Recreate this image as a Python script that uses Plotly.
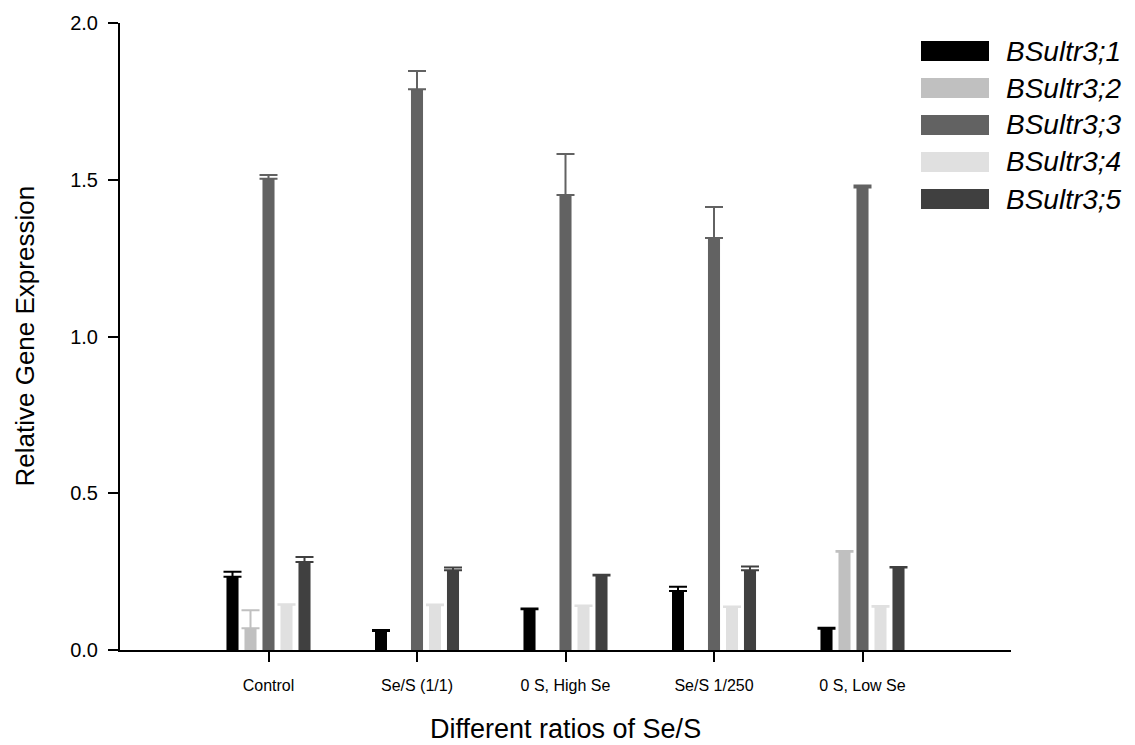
import plotly.graph_objects as go

# Treatments on the x axis
categories = ["Control", "Se/S (1/1)", "0 S, High Se", "Se/S 1/250", "0 S, Low Se"]

# Gene names (series)
genes = ["BSultr3;1", "BSultr3;2", "BSultr3;3", "BSultr3;4", "BSultr3;5"]

# Mean relative expression per gene across treatments (None = not detected)
bsultr3_1 = [0.234, 0.061, 0.130, 0.188, 0.068]
bsultr3_2 = [0.069, None, None, None, 0.313]
bsultr3_3 = [1.503, 1.789, 1.451, 1.314, 1.475]
bsultr3_4 = [0.144, 0.143, 0.140, 0.137, 0.138]
bsultr3_5 = [0.281, 0.254, 0.238, 0.254, 0.263]

# Upper error (SE)
err3_1 = [0.016, 0.003, 0.002, 0.014, 0.003]
err3_2 = [0.058, None, None, None, 0.003]
err3_3 = [0.012, 0.058, 0.131, 0.099, 0.007]
err3_4 = [0.002, 0.002, 0.002, 0.002, 0.002]
err3_5 = [0.016, 0.009, 0.002, 0.012, 0.002]

values = [bsultr3_1, bsultr3_2, bsultr3_3, bsultr3_4, bsultr3_5]
errors = [err3_1, err3_2, err3_3, err3_4, err3_5]
colors = ["#000000", "#c0c0c0", "#626262", "#e0e0e0", "#404040"]

x_title = "Different ratios of Se/S"
y_title = "Relative Gene Expression"

W, H = 1135, 745
ML, MR, MT, MB = 120, 124, 23, 95
PW, PH = W - ML - MR, H - MT - MB

FONT = "Liberation Sans, Arial, sans-serif"

fig = go.Figure()
for name, vals, errs, col in zip(genes, values, errors, colors):
    fig.add_trace(go.Bar(
        name=name,
        x=categories,
        y=vals,
        marker=dict(color=col, line=dict(width=0)),
        error_y=dict(type="data", array=errs, arrayminus=[0] * len(errs),
                     symmetric=False, color=col, thickness=2, width=9),
        showlegend=False,
    ))


def px_x(p):
    return (p - ML) / PW


def px_y(p):
    return 1 - (p - MT) / PH


# Custom legend with wide swatches
shapes = []
annotations = []
row0, step = 51, 37
for i, (name, col) in enumerate(zip(genes, colors)):
    cy = row0 + i * step
    shapes.append(dict(type="rect", xref="paper", yref="paper",
                       x0=px_x(921), x1=px_x(989), y0=px_y(cy - 10), y1=px_y(cy + 10),
                       fillcolor=col, line=dict(width=0)))
    annotations.append(dict(xref="paper", yref="paper", x=px_x(1004), y=px_y(cy),
                            xanchor="left", yanchor="middle", showarrow=False,
                            text=f"<i>{name}</i>",
                            font=dict(family=FONT, size=28, color="#000000")))

# Axis titles
annotations.append(dict(xref="paper", yref="paper", x=0.5, y=px_y(729),
                        xanchor="center", yanchor="middle", showarrow=False,
                        text=x_title, font=dict(family=FONT, size=27, color="#000000")))
annotations.append(dict(xref="paper", yref="paper", x=px_x(24), y=0.5,
                        xanchor="center", yanchor="middle", showarrow=False, textangle=-90,
                        text=y_title, font=dict(family=FONT, size=26, color="#000000")))

fig.update_layout(
    width=W, height=H,
    margin=dict(l=ML, r=MR, t=MT, b=MB, pad=0),
    paper_bgcolor="white", plot_bgcolor="white",
    barmode="group", bargap=0.394, bargroupgap=0.33,
    shapes=shapes, annotations=annotations,
    font=dict(family=FONT, color="#000000"),
    xaxis=dict(
        type="category", range=[-1, 5], automargin=False,
        showline=True, linecolor="#000000", linewidth=2,
        ticks="outside", ticklen=10, tickwidth=2, tickcolor="#000000",
        ticklabelstandoff=10,
        showgrid=False, zeroline=False,
        tickfont=dict(size=16, family=FONT),
    ),
    yaxis=dict(
        range=[0, 2.0], tickvals=[0, 0.5, 1.0, 1.5, 2.0], tickformat=".1f",
        automargin=False,
        showline=True, linecolor="#000000", linewidth=2,
        ticks="outside", ticklen=10, tickwidth=2, tickcolor="#000000",
        ticklabelstandoff=6,
        showgrid=False, zeroline=False,
        tickfont=dict(size=20, family=FONT),
    ),
)

fig.write_html("out.html")
